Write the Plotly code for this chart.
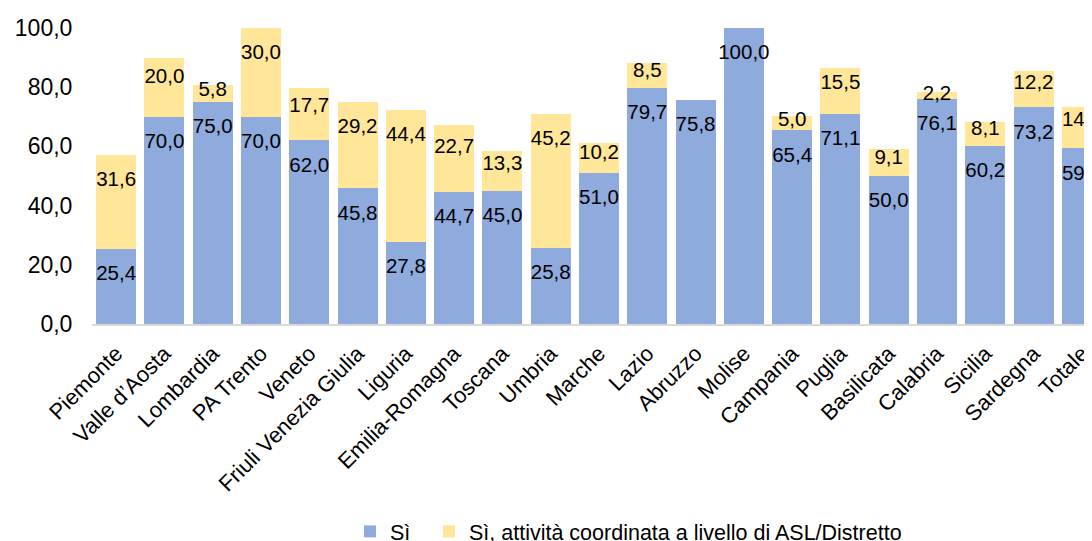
import plotly.graph_objects as go

categories = ["Piemonte", "Valle d’Aosta", "Lombardia", "PA Trento", "Veneto",
              "Friuli Venezia Giulia", "Liguria", "Emilia-Romagna", "Toscana", "Umbria",
              "Marche", "Lazio", "Abruzzo", "Molise", "Campania", "Puglia", "Basilicata",
              "Calabria", "Sicilia", "Sardegna", "Totale"]
si = [25.4, 70.0, 75.0, 70.0, 62.0, 45.8, 27.8, 44.7, 45.0, 25.8, 51.0, 79.7, 75.8,
      100.0, 65.4, 71.1, 50.0, 76.1, 60.2, 73.2, 59.3]
si_asl = [31.6, 20.0, 5.8, 30.0, 17.7, 29.2, 44.4, 22.7, 13.3, 45.2, 10.2, 8.5, 0.0,
          0.0, 5.0, 15.5, 9.1, 2.2, 8.1, 12.2, 14.1]

series_names = ["Sì", "Sì, attività coordinata a livello di ASL/Distretto"]
colors = ["#8FAADC", "#FFE699"]
FONT = "Liberation Sans, Arial, sans-serif"


def fmt(v):
    return f"{v:.1f}".replace(".", ",")


fig = go.Figure()
fig.add_trace(go.Bar(x=categories, y=si, name=series_names[0], legend="legend",
                     marker=dict(color=colors[0], line=dict(width=0))))
fig.add_trace(go.Bar(x=categories, y=si_asl, name=series_names[1], legend="legend2",
                     marker=dict(color=colors[1], line=dict(width=0))))

# data labels placed near the inside top of each segment
off_max = 8.8
lab_x, lab_y, lab_t = [], [], []
for c, a, b in zip(categories, si, si_asl):
    lab_x.append(c); lab_y.append(a - min(off_max, 0.35 * a)); lab_t.append(fmt(a))
    if b > 0:
        top = a + b
        lab_x.append(c); lab_y.append(top - min(off_max, 0.35 * b)); lab_t.append(fmt(b))

fig.add_trace(go.Scatter(x=lab_x, y=lab_y, text=lab_t, mode="text",
                         textposition="middle center",
                         textfont=dict(family=FONT, size=20.5, color="#000000"),
                         showlegend=False, hoverinfo="skip", cliponaxis=True))

leg_common = dict(orientation="h", yref="container", y=0.018, yanchor="middle",
                  xanchor="left", bgcolor="rgba(0,0,0,0)",
                  font=dict(family=FONT, size=21.5, color="#000000"))

fig.update_layout(
    width=1084, height=533,
    margin=dict(l=84, r=0, t=20, b=217, pad=0),
    barmode="stack", bargap=0.17,
    plot_bgcolor="white", paper_bgcolor="white",
    separators=",.",
    font=dict(family=FONT, size=22, color="#000000"),
    legend=dict(x=0.258, **leg_common),
    legend2=dict(x=0.337, **leg_common),
)
fig.update_xaxes(range=[-0.5, 20.21], tickangle=-45, showgrid=False,
                 showline=True, linecolor="#D9D9D9", linewidth=2,
                 ticks="outside", ticklen=6, tickcolor="rgba(0,0,0,0)",
                 tickfont=dict(family=FONT, size=22, color="#000000"))
fig.update_yaxes(range=[0, 100], dtick=20, tickformat=".1f", showgrid=False,
                 showline=False, zeroline=False, ticks="outside", ticklen=14,
                 tickcolor="rgba(0,0,0,0)",
                 tickfont=dict(family=FONT, size=23, color="#000000"))

fig.write_html("out.html")
